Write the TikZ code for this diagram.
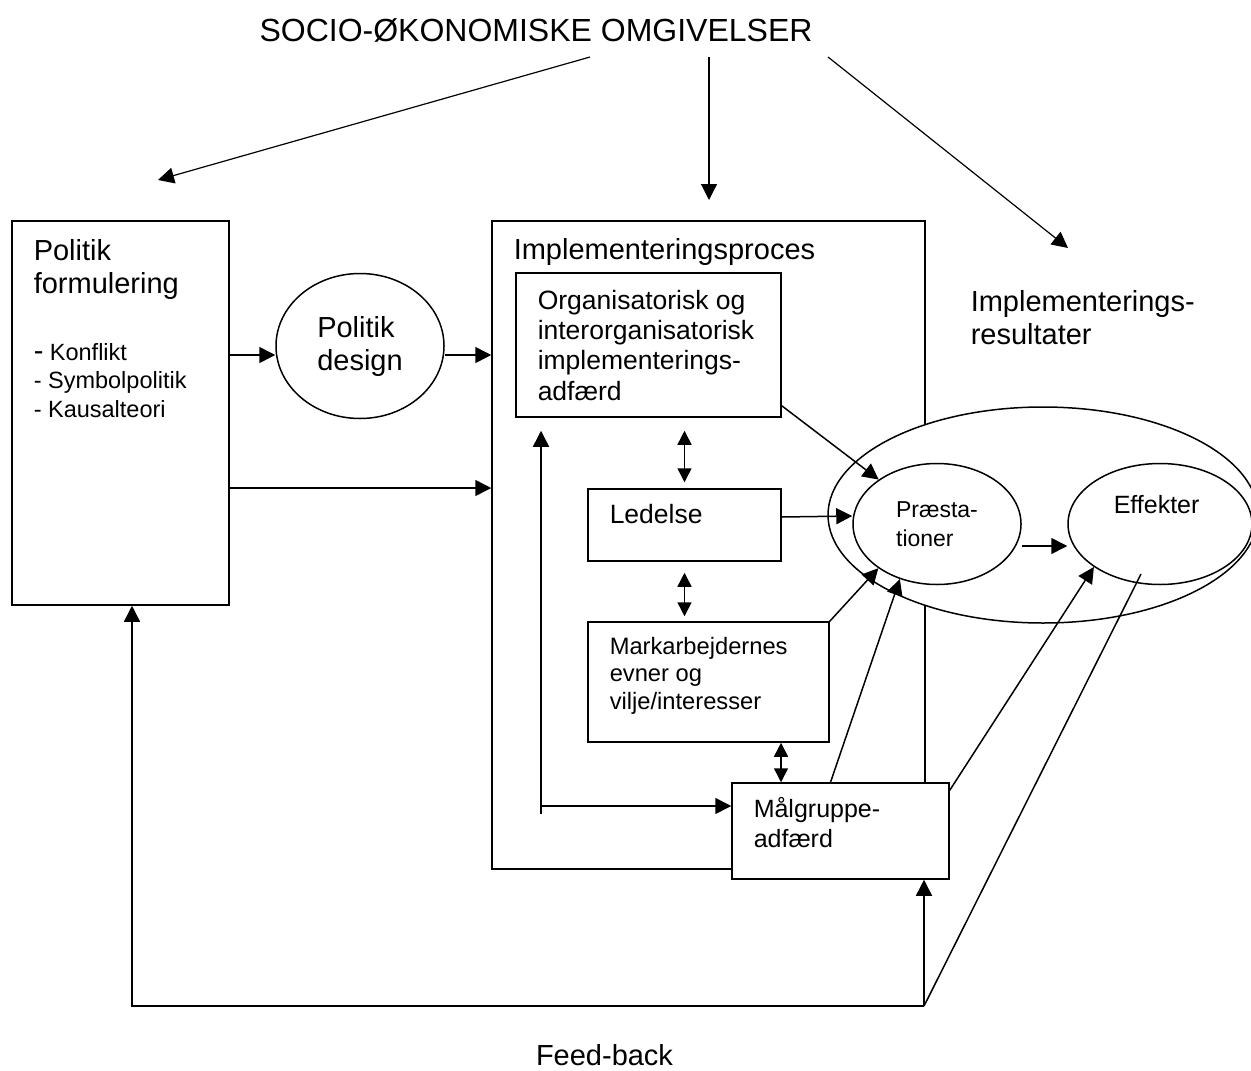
\documentclass[tikz,border=0pt]{standalone}
\usepackage{fontspec}
\setmainfont{Liberation Sans}
\usetikzlibrary{shapes.geometric,arrows.meta}

\begin{document}
\begin{tikzpicture}[x=0.5pt,y=-0.5pt,line width=0.75pt,
    box/.style={draw,fill=white,inner sep=0pt},
    oval/.style={draw,ellipse,inner sep=0pt},
    txt/.style={anchor=base west,inner sep=0pt,align=left},
    arr/.style={-{Triangle[length=8pt,width=8pt]}},
    darr/.style={{Triangle[length=7pt,width=7pt]}-{Triangle[length=7pt,width=7pt]}},
    ftitle/.style={font=\fontsize{16}{18}\selectfont},
    fbig/.style={font=\fontsize{14.5}{16.5}\selectfont},
    fmid/.style={font=\fontsize{13.25}{15.15}\selectfont},
    flist/.style={font=\fontsize{11.75}{14.25}\selectfont},
    fmark/.style={font=\fontsize{11.85}{13.75}\selectfont},
    fmaal/.style={font=\fontsize{12.5}{15}\selectfont},
    fres/.style={font=\fontsize{11.5}{14.5}\selectfont}]
    \useasboundingbox (0,0) rectangle (1251,1070);

    \node[ftitle,anchor=base,inner sep=0pt] (omg) at (536,42) {SOCIO-ØKONOMISKE OMGIVELSER};

    \node[box,minimum width=108.5pt,minimum height=192pt] (polf) at (120.5,413) {};
    \node[txt,fbig] (polftxt) at (33,293) {Politik\\formulering};
    \node[txt,flist] (polflist) at (33,417) {{\fontsize{14.5}{14.25}\selectfont -} Konflikt\\- Symbolpolitik\\- Kausalteori};

    \node[oval,fbig,align=left,minimum width=84pt,minimum height=72.5pt] (design) at (360,346) {Politik\\design};

    \node[box,minimum width=216.5pt,minimum height=324pt] (impl) at (708.5,545) {};
    \node[txt,fbig] (impltxt) at (513,259) {Implementeringsproces};

    \node[box,minimum width=132.5pt,minimum height=72pt] (org) at (648.5,345) {};
    \node[txt,fmid] (orgtxt) at (537,400) {Organisatorisk og\\interorganisatorisk\\implementerings-\\adfærd};

    \node[box,minimum width=96.5pt,minimum height=36pt] (led) at (684.5,525) {};
    \node[txt,fmid] (ledtxt) at (609,523) {Ledelse};

    \node[box,minimum width=120.5pt,minimum height=60pt] (mark) at (708.5,682) {};
    \node[txt,fmark] (marktxt) at (609,709) {Markarbejdernes\\evner og\\vilje/interesser};

    \node[oval,fill=white,minimum width=215pt,minimum height=108pt] (res) at (1043,515) {};
    \node[oval,fres,align=left,minimum width=84pt,minimum height=60.5pt] (praest) at (937,524) {Præsta-\\tioner};
    \node[oval,minimum width=92pt,minimum height=60.5pt] (eff) at (1160,524) {};
    \node[txt,fmaal] (efftxt) at (1113,513) {Effekter};

    \node[box,minimum width=108.5pt,minimum height=48pt] (maal) at (840.5,831) {};
    \node[txt,fmaal] (maaltxt) at (753,847) {Målgruppe-\\adfærd};

    \node[txt,fbig] (restxt) at (970,344) {Implementerings-\\resultater};
    \node[fbig,anchor=base,inner sep=0pt] (fback) at (604.5,1065) {Feed-back};

    \coordinate (s1) at (590,57);
    \coordinate (s2) at (709,57);
    \coordinate (s3) at (828,57);
    \coordinate (e1) at (158,180);
    \coordinate (e2) at (709,200);
    \coordinate (e3) at (1068,248);
    \draw[arr,line width=0.6pt] (s1) -- (e1);
    \draw[arr,line width=0.6pt] (s2) -- (e2);
    \draw[arr,line width=0.6pt] (s3) -- (e3);

    \draw[arr] (polf.east |- 0,355) -- (design.west |- 0,355);
    \draw[arr] (design.east |- 0,355) -- (impl.west |- 0,355);
    \draw[arr] (polf.east |- 0,488) -- (impl.west |- 0,488);

    \draw[arr] ([yshift=6pt]org.south east) -- (praest);
    \draw[arr] ([yshift=4pt]led.east) -- ([yshift=4pt]praest.west);
    \draw[arr] (mark.north east) -- (praest.217);
    \draw[arr] ([xshift=-5pt]maal.north) -- (praest.236);
    \draw[arr] ([yshift=-4pt]maal.north east) -- (eff.213);
    \draw[arr] (praest.east |- 0,546) -- (eff.west |- 0,546);

    \draw[darr,shorten <=3pt,shorten >=6.5pt] (led.north) -- (led.north |- org.south);
    \draw[darr,shorten <=5.5pt,shorten >=2.5pt] (led.south) -- (led.south |- mark.north);
    \coordinate (mm) at ([xshift=36.25pt]mark.south);
    \draw[darr] (mm) -- (mm |- maal.north);

    \coordinate (lp) at (541,814);
    \draw[arr,shorten >=6.5pt] (lp) -- (lp |- org.south);
    \draw[arr] (lp |- 0,806) -- (maal.west |- 0,806);

    \coordinate (fbk) at (924,1006);
    \draw[arr] (fbk) -| ([xshift=5.75pt]polf.south);
    \draw[arr] (fbk) -- (fbk |- maal.south);
    \draw ([shift={(-9.5pt,-25pt)}]eff.center) -- (fbk);
\end{tikzpicture}
\end{document}
